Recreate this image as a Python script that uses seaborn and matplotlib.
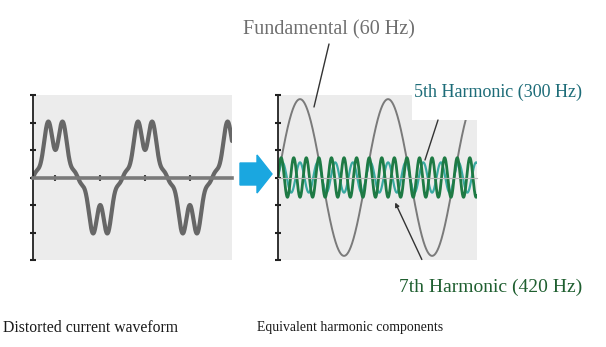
import numpy as np
import pandas as pd
import matplotlib.pyplot as plt
import seaborn as sns
from matplotlib.patches import FancyArrow, Rectangle
from matplotlib.lines import Line2D

# distorted current waveform (left): harmonic orders / amplitudes
distorted_orders = [1, 5, 7]
distorted_amps = [1.67, -0.43, 0.24]
left_cycles = 2.22

# equivalent harmonic components (right)
component_names = ["Fundamental (60 Hz)", "5th Harmonic (300 Hz)", "7th Harmonic (420 Hz)"]
component_orders = [1, 5, 7]
component_amps = [2.85, 0.55, 0.72]
component_colors = ["#7a7a7a", "#3aaaa2", "#1e7a44"]
component_widths = [1.4, 1.6, 2.0]
right_cycles = 2.26

x_ticks = [0.25, 0.75, 1.25, 1.75]
y_ticks = [-3, -2, -1, 0, 1, 2, 3]

W, H = 606, 347

sns.set_theme(style="white")
plt.rcParams['font.family'] = ['Liberation Serif', 'DejaVu Serif']

# build the sampled waveforms
t_left = np.linspace(0, left_cycles, 900)
left_df = pd.DataFrame({"cycle": t_left,
                        "current": sum(a * np.sin(2 * np.pi * n * t_left)
                                       for n, a in zip(distorted_orders, distorted_amps))})

t_right = np.linspace(0, right_cycles, 1200)
rows = []
for name, n, a in zip(component_names, component_orders, component_amps):
    rows.append(pd.DataFrame({"cycle": t_right, "current": a * np.sin(2 * np.pi * n * t_right),
                              "component": name}))
right_df = pd.concat(rows)

fig = plt.figure(figsize=(W / 100, H / 100), dpi=100)
ax1 = fig.add_axes([33 / W, 87 / H, 199 / W, 165 / H])
ax2 = fig.add_axes([278 / W, 87 / H, 199 / W, 165 / H])

for ax, cyc in [(ax1, left_cycles), (ax2, right_cycles)]:
    ax.set_facecolor("#ececec")
    ax.set_xlim(0, cyc)
    ax.set_ylim(-3, 3)
    ax.set_yticks(y_ticks)
    ax.spines['top'].set_visible(False)
    ax.spines['right'].set_visible(False)
    ax.spines['left'].set_color("#222222")
    ax.spines['left'].set_linewidth(1.3)
    ax.spines['bottom'].set_position(('data', 0))
    ax.tick_params(axis='y', left=True, direction='inout', length=5, width=1.5,
                   color="#222222", labelleft=False)

# left: zero line with ticks
ax1.spines['bottom'].set_color("#7a7a7a")
ax1.spines['bottom'].set_linewidth(2.6)
ax1.set_xticks(x_ticks)
ax1.tick_params(axis='x', bottom=True, direction='inout', length=5, width=1.5,
                color="#444444", labelbottom=False)
sns.lineplot(data=left_df, x="cycle", y="current", ax=ax1, color="#676767",
             linewidth=3.0, legend=False)
ax1.set_xlabel("")
ax1.set_ylabel("")

# right: faint zero line, components
ax2.spines['bottom'].set_color("#b5b5b5")
ax2.spines['bottom'].set_linewidth(0.8)
ax2.set_xticks([])
for name, col, lw in zip(component_names, component_colors, component_widths):
    sns.lineplot(data=right_df[right_df.component == name], x="cycle", y="current",
                 ax=ax2, color=col, linewidth=lw, legend=False)
ax2.set_xlabel("")
ax2.set_ylabel("")
# white box behind the 5th harmonic label hides the corner of the panel
ax2.add_patch(Rectangle((0.673, 0.848), 0.34, 0.17, transform=ax2.transAxes,
                        facecolor="white", edgecolor="none", clip_on=False, zorder=5))


def px(x, y):
    return x / W, 1 - y / H


# labels
fig.text(*px(243, 30), component_names[0], color="#6e6e6e", fontsize=14.5, va='center', ha='left')
fig.text(*px(414, 92), component_names[1], color="#1d6c78", fontsize=13, va='center', ha='left')
fig.text(*px(399, 287), component_names[2], color="#1f5f30", fontsize=14, va='center', ha='left')
fig.text(*px(3, 328), "Distorted current waveform", color="#1a1a1a", fontsize=11.3, va='center', ha='left')
fig.text(*px(257, 328), "Equivalent harmonic components", color="#1a1a1a", fontsize=9.9, va='center', ha='left')

# leader lines
for (x0, y0), (x1, y1) in [((329, 44), (314, 107)),
                           ((438, 120), (425, 160))]:
    (a0, b0), (a1, b1) = px(x0, y0), px(x1, y1)
    fig.add_artist(Line2D([a0, a1], [b0, b1], transform=fig.transFigure,
                          color="#333333", linewidth=1.0))
fig.add_artist(plt.matplotlib.text.Annotation(
    "", xy=(394, H - 200), xytext=(423, H - 262), xycoords='figure pixels',
    textcoords='figure pixels',
    arrowprops=dict(arrowstyle="-|>", color="#333333", lw=1.0, mutation_scale=6)))

# block arrow between panels
fig.add_artist(FancyArrow(2.40, (H - 174) / 100, 0.17, 0, width=0.22, head_width=0.38,
                          head_length=0.15, length_includes_head=False,
                          transform=fig.dpi_scale_trans, color="#1aa7e0"))

fig.savefig("out.png", dpi=100)
